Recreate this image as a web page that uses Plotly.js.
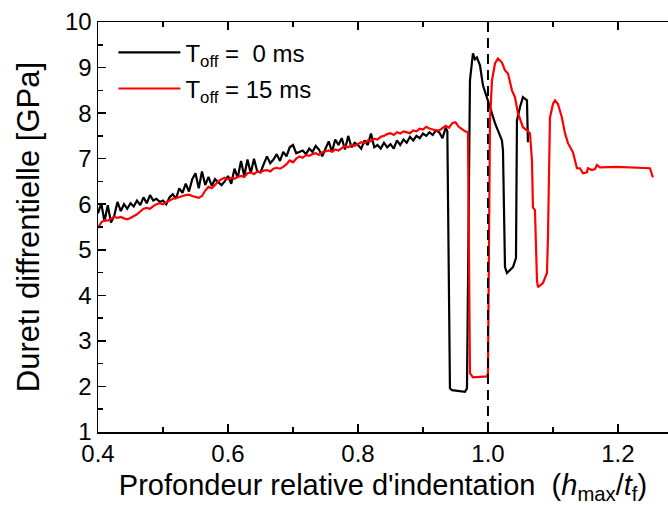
<!DOCTYPE html>
<html>
<head>
<meta charset="utf-8">
<script src="https://cdn.plot.ly/plotly-3.0.1.min.js"></script>
<style>
  html, body { margin: 0; padding: 0; background: #fff; }
  #chart { width: 668px; height: 505px; }
</style>
</head>
<body>
<div id="chart"></div>
<script>
// Differential hardness vs. relative indentation depth, two T_off settings.
const seriesNames = ['T<sub>off</sub> = &nbsp;0 ms', 'T<sub>off</sub> = 15 ms'];

const blackX = [
  0.400,0.405,0.410,0.415,0.420,0.425,0.430,0.435,0.440,0.445,
  0.450,0.455,0.460,0.465,0.470,0.475,0.480,0.485,0.490,0.495,
  0.500,0.505,0.510,0.515,0.520,0.525,0.530,0.535,0.540,0.545,
  0.550,0.555,0.560,0.565,0.570,0.575,0.580,0.585,0.590,0.595,
  0.600,0.605,0.610,0.615,0.620,0.625,0.630,0.635,0.640,0.645,
  0.650,0.655,0.660,0.665,0.670,0.675,0.680,0.685,0.690,0.695,
  0.700,0.705,0.710,0.715,0.720,0.725,0.730,0.735,0.740,0.745,
  0.750,0.755,0.760,0.765,0.770,0.775,0.780,0.785,0.790,0.795,
  0.800,0.805,0.810,0.815,0.820,0.825,0.830,0.835,0.840,0.845,
  0.850,0.855,0.860,0.865,0.870,0.875,0.880,0.885,0.890,0.895,
  0.900,0.905,0.910,0.915,0.920,0.925,0.930,0.935,
  0.9375,0.9415,0.9446,0.955,0.9646,0.9677,0.9723,0.9769,0.980,0.983,
  0.9846,0.9877,0.9923,0.9985,1.0031,1.0108,1.0154,1.0215,1.0231,1.0262,
  1.0292,1.0385,1.0431,1.0446,1.0492,1.0538,1.060,1.0615
];
const blackY = [
  5.80,6.02,5.62,5.98,5.60,5.75,6.05,5.85,6.00,5.90,
  6.02,5.95,6.08,5.98,6.15,6.02,6.20,6.08,6.12,6.05,
  6.08,6.00,6.15,6.22,6.12,6.35,6.25,6.45,6.28,6.55,
  6.68,6.35,6.72,6.42,6.60,6.40,6.55,6.48,6.42,6.50,
  6.62,6.45,6.78,6.58,6.95,6.62,6.98,6.68,7.00,6.72,
  6.70,6.88,7.05,6.90,6.98,7.10,6.95,7.15,7.05,7.25,
  7.30,7.12,7.15,7.18,7.10,7.22,7.15,7.28,7.20,7.05,
  7.22,7.38,7.15,7.42,7.30,7.45,7.20,7.50,7.25,7.35,
  7.30,7.22,7.40,7.30,7.55,7.25,7.30,7.22,7.35,7.25,
  7.32,7.22,7.40,7.30,7.42,7.35,7.48,7.40,7.50,7.45,
  7.55,7.50,7.58,7.52,7.62,7.58,7.45,7.68,
  7.60,1.96,1.92,1.90,1.88,1.96,8.72,9.31,9.18,9.22,
  9.15,9.05,8.61,8.35,8.13,7.78,7.62,7.40,7.18,4.62,
  4.49,4.62,4.82,7.84,8.13,8.35,8.28,7.36
];

const redX = [
  0.400,0.405,0.410,0.415,0.420,0.425,0.430,0.435,0.440,0.445,
  0.450,0.455,0.460,0.465,0.470,0.475,0.480,0.485,0.490,0.495,
  0.500,0.505,0.510,0.515,0.520,0.525,0.530,0.535,0.540,0.545,
  0.550,0.555,0.560,0.565,0.570,0.575,0.580,0.585,0.590,0.595,
  0.600,0.605,0.610,0.615,0.620,0.625,0.630,0.635,0.640,0.645,
  0.650,0.655,0.660,0.665,0.670,0.675,0.680,0.685,0.690,0.695,
  0.700,0.705,0.710,0.715,0.720,0.725,0.730,0.735,0.740,0.745,
  0.750,0.755,0.760,0.765,0.770,0.775,0.780,0.785,0.790,0.795,
  0.800,0.805,0.810,0.815,0.820,0.825,0.830,0.835,0.840,0.845,
  0.850,0.855,0.860,0.865,0.870,0.875,0.880,0.885,0.890,0.895,
  0.900,0.905,0.910,0.915,0.920,0.925,0.930,0.935,0.940,0.945,
  0.950,0.955,0.960,0.965,
  0.9692,0.9723,0.9769,0.9985,1.000,1.0031,1.0062,1.0108,1.0154,1.0215,
  1.0262,1.0308,1.0369,1.0415,1.0462,1.0492,1.0538,1.060,1.0646,1.0677,
  1.0692,1.0723,1.0754,1.0769,1.0846,1.0908,1.0923,1.0954,1.100,1.1031,
  1.1077,1.1138,1.1185,1.1231,1.1262,1.1308,1.1369,1.1415,1.1462,1.1523,
  1.1538,1.160,1.1646,1.1677,1.1723,1.1985,1.2492,1.2538
];
const redY = [
  5.48,5.60,5.65,5.64,5.68,5.72,5.70,5.72,5.69,5.67,
  5.70,5.74,5.78,5.84,5.90,5.92,5.90,5.96,6.00,6.02,
  6.00,6.04,6.08,6.12,6.13,6.16,6.18,6.20,6.21,6.18,
  6.16,6.14,6.18,6.30,6.38,6.35,6.42,6.50,6.55,6.58,
  6.55,6.58,6.56,6.60,6.62,6.60,6.68,6.70,6.66,6.72,
  6.70,6.74,6.75,6.72,6.78,6.80,6.78,6.82,6.88,6.96,
  6.92,7.00,7.05,7.02,7.08,7.06,7.10,7.12,7.08,7.14,
  7.16,7.18,7.15,7.20,7.18,7.24,7.28,7.25,7.30,7.28,
  7.32,7.36,7.34,7.40,7.38,7.44,7.42,7.48,7.50,7.54,
  7.56,7.52,7.58,7.55,7.60,7.58,7.56,7.62,7.60,7.66,
  7.64,7.70,7.66,7.64,7.62,7.62,7.68,7.72,7.68,7.78,
  7.80,7.70,7.65,7.60,
  7.58,2.29,2.20,2.22,2.29,7.84,8.72,9.09,9.20,9.11,
  8.94,8.87,8.50,8.35,8.00,7.89,7.69,7.62,7.56,6.96,
  5.93,5.87,4.33,4.18,4.27,4.49,5.28,7.90,8.20,8.28,
  8.20,7.90,7.56,7.34,7.25,7.14,6.79,6.79,6.68,6.70,
  6.79,6.75,6.77,6.86,6.81,6.82,6.79,6.59
];

// Reference depth h_max / t_f = 1 (dashed marker)
const refDepth = 1.0;

const xTickVals = [0.4, 0.6, 0.8, 1.0, 1.2];
const xTickText = ['0.4', '0.6', '0.8', '1.0', '1.2'];
const yTickVals = [1, 2, 3, 4, 5, 6, 7, 8, 9, 10];

const FONT = '"Liberation Sans", Arial, sans-serif';

const traces = [
  { x: blackX, y: blackY, name: seriesNames[0], mode: 'lines', legendgroup: 'a',
    line: { color: '#000000', width: 2.2 } },
  { x: redX, y: redY, name: seriesNames[1], mode: 'lines', legendgroup: 'b',
    line: { color: '#ff0000', width: 2.2 } }
];

const axisCommon = {
  showline: true, linecolor: '#000', linewidth: 1.5,
  ticks: 'inside', ticklen: 8, tickwidth: 1.5, tickcolor: '#000',
  showgrid: false, zeroline: false,
  tickfont: { family: FONT, size: 24, color: '#000' }
};

const layout = {
  width: 668, height: 505,
  margin: { l: 98, r: 0, t: 22, b: 73 },
  paper_bgcolor: '#fff', plot_bgcolor: '#fff',
  font: { family: FONT, color: '#000' },
  showlegend: true,
  legend: {
    x: 0.027, y: 0.98, xanchor: 'left', yanchor: 'top',
    bgcolor: 'rgba(0,0,0,0)', borderwidth: 0,
    font: { family: FONT, size: 24, color: '#000' },
    itemwidth: 62, tracegroupgap: 2
  },
  xaxis: Object.assign({}, axisCommon, {
    range: [0.4, 1.277], mirror: 'allticks',
    tickvals: xTickVals, ticktext: xTickText,
    minor: { dtick: 0.1, ticklen: 5, tickwidth: 1.5, tickcolor: '#000', ticks: 'inside' },
    title: { text: "Profondeur relative d'indentation&nbsp;&nbsp;(<i>h</i><sub>max</sub>/<i>t</i><sub>f</sub>)",
             font: { family: FONT, size: 29, color: '#000' }, standoff: 9 }
  }),
  yaxis: Object.assign({}, axisCommon, {
    range: [1, 10], tickvals: yTickVals,
    minor: { dtick: 0.5, ticklen: 5, tickwidth: 1.5, tickcolor: '#000', ticks: 'inside' },
    title: { text: 'Duretı diffrentielle [GPa]',
             font: { family: FONT, size: 31, color: '#000' }, standoff: 16 }
  }),
  shapes: [
    { type: 'line', xref: 'x', yref: 'paper', x0: refDepth, x1: refDepth, y0: 0, y1: 1,
      line: { color: '#000', width: 2, dash: '10px,6px' } }
  ]
};

Plotly.newPlot('chart', traces, layout, { displayModeBar: false, staticPlot: true });
</script>
</body>
</html>
